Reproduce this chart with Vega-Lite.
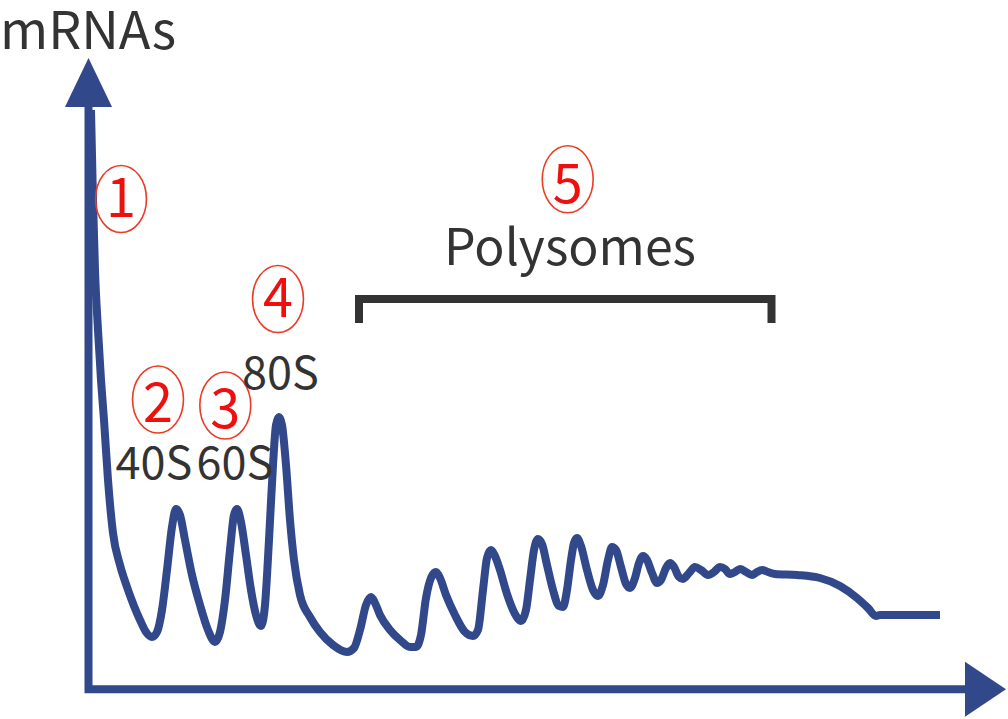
{
  "$schema": "https://vega.github.io/schema/vega-lite/v6.json",
  "width": 1008,
  "height": 719,
  "autosize": {"type": "fit", "contains": "padding"},
  "padding": 0,
  "background": "white",
  "config": {"view": {"stroke": null}},
  "datasets": {
    "profile": [
      {"x":91,"y":609},{"x":93,"y":519},{"x":95,"y":449},{"x":98,"y":389},{"x":101,"y":339},{"x":104,"y":299},{"x":108,"y":239},{"x":113,"y":186},{"x":120,"y":154},{"x":127,"y":132},{"x":134,"y":113},{"x":140,"y":99},{"x":146,"y":87},{"x":152,"y":82},{"x":157,"y":87},{"x":162,"y":109},{"x":167,"y":149},{"x":172,"y":192},{"x":176,"y":210},{"x":180,"y":204},{"x":185,"y":179},{"x":192,"y":144},{"x":200,"y":114},{"x":208,"y":89},{"x":215,"y":77},{"x":220,"y":87},{"x":225,"y":119},{"x":230,"y":169},{"x":234,"y":204},{"x":237,"y":210},{"x":241,"y":197},{"x":246,"y":164},{"x":251,"y":129},{"x":256,"y":104},{"x":261,"y":93},{"x":265,"y":114},{"x":269,"y":179},{"x":273,"y":254},{"x":276,"y":294},{"x":279,"y":302},{"x":282,"y":294},{"x":286,"y":254},{"x":290,"y":199},{"x":294,"y":159},{"x":300,"y":124},{"x":310,"y":102},{"x":320,"y":87},{"x":333,"y":74},{"x":347,"y":67},{"x":354,"y":71},{"x":360,"y":89},{"x":366,"y":114},{"x":371,"y":122},{"x":375,"y":116},{"x":380,"y":104},{"x":390,"y":89},{"x":400,"y":79},{"x":410,"y":72},{"x":416,"y":72},{"x":421,"y":84},{"x":426,"y":121},{"x":431,"y":141},{"x":436,"y":147},{"x":440,"y":141},{"x":446,"y":124},{"x":455,"y":104},{"x":465,"y":87},{"x":473,"y":83},{"x":478,"y":89},{"x":483,"y":129},{"x":487,"y":161},{"x":491,"y":169},{"x":495,"y":163},{"x":500,"y":149},{"x":507,"y":125},{"x":515,"y":105},{"x":521,"y":98},{"x":526,"y":109},{"x":530,"y":139},{"x":534,"y":169},{"x":538,"y":180},{"x":542,"y":175},{"x":547,"y":154},{"x":553,"y":129},{"x":559,"y":113},{"x":563,"y":112},{"x":567,"y":129},{"x":571,"y":159},{"x":574,"y":176},{"x":577,"y":181},{"x":581,"y":173},{"x":587,"y":149},{"x":593,"y":129},{"x":598,"y":123},{"x":603,"y":134},{"x":608,"y":159},{"x":612,"y":172},{"x":616,"y":169},{"x":621,"y":152},{"x":626,"y":135},{"x":630,"y":131},{"x":635,"y":141},{"x":639,"y":156},{"x":643,"y":163},{"x":647,"y":159},{"x":652,"y":146},{"x":657,"y":136},{"x":661,"y":139},{"x":666,"y":151},{"x":670,"y":156},{"x":674,"y":152},{"x":679,"y":142},{"x":683,"y":140},{"x":689,"y":146},{"x":695,"y":152},{"x":701,"y":149},{"x":708,"y":144},{"x":714,"y":147},{"x":720,"y":152},{"x":725,"y":150},{"x":730,"y":145},{"x":735,"y":147},{"x":740,"y":150},{"x":746,"y":147},{"x":752,"y":144},{"x":757,"y":147},{"x":762,"y":149},{"x":768,"y":147},{"x":775,"y":145},{"x":797,"y":144},{"x":820,"y":141},{"x":840,"y":133},{"x":857,"y":121},{"x":868,"y":111},{"x":876,"y":103},{"x":880,"y":104},{"x":940,"y":104}
    ],
    "axesLine": [
      {"seq":1,"x":88.5,"y":612},{"seq":2,"x":88.5,"y":29.7},{"seq":3,"x":965,"y":29.7}
    ],
    "arrowUp": [{"x":88.5,"y":636.5}],
    "arrowRight": [{"x":985.5,"y":29.7}],
    "bracket": [
      {"seq":1,"x":359,"y":396},{"seq":2,"x":359,"y":420},{"seq":3,"x":771.5,"y":420},{"seq":4,"x":771.5,"y":396}
    ],
    "circles": [
      {"num":"1","x":121,"y":520,"by":502.3},
      {"num":"2","x":158,"y":319.5,"by":297.3},
      {"num":"3","x":225.3,"y":313.5,"by":291},
      {"num":"4","x":278,"y":420,"by":402.3},
      {"num":"5","x":567.7,"y":539.7,"by":515.7}
    ],
    "fractions": [
      {"label":"40S","x":154,"y":240},
      {"label":"60S","x":235,"y":240},
      {"label":"80S","x":280.5,"y":330}
    ],
    "titleY": [{"label":"mRNAs","x":0,"y":670}],
    "polyLabel": [{"label":"Polysomes","x":570,"y":454}]
  },
  "encoding": {
    "x": {"field":"x","type":"quantitative","scale":{"domain":[0,1008],"nice":false,"zero":false},"axis":null},
    "y": {"field":"y","type":"quantitative","scale":{"domain":[0,719],"nice":false,"zero":false},"axis":null}
  },
  "layer": [
    {
      "data": {"name":"bracket"},
      "mark": {"type":"line","color":"#333333","strokeWidth":8,"strokeCap":"butt","strokeJoin":"miter"},
      "encoding": {"order": {"field":"seq","type":"quantitative"}}
    },
    {
      "data": {"name":"axesLine"},
      "mark": {"type":"line","color":"#31488a","strokeWidth":8,"strokeCap":"butt","strokeJoin":"miter"},
      "encoding": {"order": {"field":"seq","type":"quantitative"}}
    },
    {
      "data": {"name":"arrowUp"},
      "mark": {"type":"point","filled":true,"color":"#31488a","opacity":1,"size":2401,"shape":"M0,-1L0.96,1L-0.96,1Z","strokeWidth":0}
    },
    {
      "data": {"name":"arrowRight"},
      "mark": {"type":"point","filled":true,"color":"#31488a","opacity":1,"size":1681,"shape":"M1,0L-1,-1.34L-1,1.34Z","strokeWidth":0}
    },
    {
      "data": {"name":"profile"},
      "mark": {"type":"line","color":"#31488a","strokeWidth":8,"interpolate":"monotone","strokeCap":"butt","strokeJoin":"round"}
    },
    {
      "data": {"name":"circles"},
      "mark": {"type":"point","filled":false,"stroke":"#ec3b26","strokeWidth":1.6,"opacity":1,"size":4489,"shape":"M0,-1C0.42,-1,0.76,-0.552,0.76,0C0.76,0.552,0.42,1,0,1C-0.42,1,-0.76,0.552,-0.76,0C-0.76,-0.552,-0.42,-1,0,-1Z"}
    },
    {
      "data": {"name":"circles"},
      "mark": {"type":"text","color":"#ee0f0f","font":"Noto Sans CJK SC","fontSize":54,"align":"center","baseline":"alphabetic"},
      "encoding": {"text":{"field":"num"},"y":{"field":"by","type":"quantitative"}}
    },
    {
      "data": {"name":"fractions"},
      "mark": {"type":"text","color":"#333333","font":"Noto Sans CJK SC","fontSize":45,"align":"center","baseline":"alphabetic"},
      "encoding": {"text":{"field":"label"}}
    },
    {
      "data": {"name":"titleY"},
      "mark": {"type":"text","color":"#333333","font":"Noto Sans CJK SC","fontSize":52,"align":"left","baseline":"alphabetic"},
      "encoding": {"text":{"field":"label"}}
    },
    {
      "data": {"name":"polyLabel"},
      "mark": {"type":"text","color":"#333333","font":"Noto Sans CJK SC","fontSize":50,"align":"center","baseline":"alphabetic"},
      "encoding": {"text":{"field":"label"}}
    }
  ]
}
